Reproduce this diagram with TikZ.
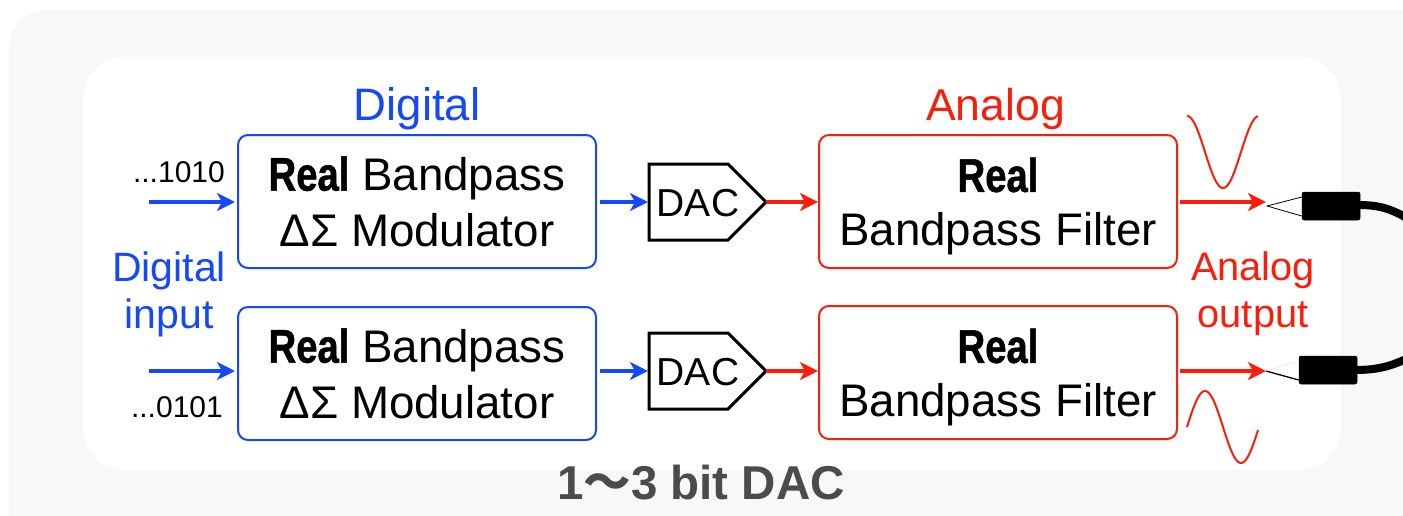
\documentclass[tikz,border=0pt]{standalone}
\usepackage{fontspec}
\setmainfont{Liberation Sans}
\newfontfamily\cjkf{Noto Sans CJK JP}[Scale=1]
\usetikzlibrary{arrows.meta}
\definecolor{dblue}{RGB}{20,72,250}
\definecolor{dred}{RGB}{250,30,10}
\definecolor{panel}{RGB}{248,248,248}
\definecolor{capgray}{RGB}{75,75,75}
\newcommand{\realword}{\scalebox{0.85}[1.05]{\fontsize{45}{45}\selectfont\bfseries\addfontfeatures{FakeBold=1.2}Real}}
\tikzset{
  blockbase/.style={rounded corners=10pt,line width=2pt,minimum width=358pt,minimum height=133pt,align=center,inner sep=0pt},
  modbox/.style={blockbase,draw=dblue,font=\fontsize{45.7}{55.5}\selectfont},
  filtbox/.style={blockbase,draw=dred},
  filttext/.style={inner sep=0pt,align=center,font=\fontsize{45.7}{54}\selectfont},
  sig/.style={line width=3.2pt,-{Stealth[length=18pt,width=18pt,inset=5pt]}},
  bluesig/.style={sig,draw=dblue},
  redsig/.style={sig,draw=dred},
  wave/.style={draw=dred,line width=2pt},
  plug/.style={fill=black,draw=black,rounded corners=2pt,line width=.5pt},
  lbl/.style={inner sep=0pt,align=center},
  cable/.style={draw=black,line width=8pt},
  dacbox/.style={draw=black,line width=3pt,line join=miter,fill=white}
}
\begin{document}
\begin{tikzpicture}[x=1pt,y=-1pt]
\useasboundingbox (0,0) rectangle (1403,515);
\begin{scope}
\clip (0,0) rectangle (1403,515);
\fill[white] (0,0) rectangle (1403,515);
\fill[panel,rounded corners=38pt] (9,10) rectangle (1460,560);
\fill[white,rounded corners=42pt] (83,57) rectangle (1341,470);

% blocks
\node[modbox] (m1) at (417,201.5) {\realword{} Bandpass\\ΔΣ Modulator};
\node[modbox] (m2) at (417,373.5) {\realword{} Bandpass\\ΔΣ Modulator};
\node[filtbox] (f1) at (998,201.5) {};
\node[filtbox] (f2) at (998,372.5) {};
\node[filttext,yshift=-5pt] (ft1) at (f1) {\realword\\Bandpass Filter};
\node[filttext,yshift=-5pt] (ft2) at (f2) {\realword\\Bandpass Filter};

% DACs
\draw[dacbox] (649,164) coordinate (d1a) -- (728,164) -- (766,202) coordinate (d1tip) -- (728,240) -- (649,240) -- cycle;
\draw[dacbox] (649,333) coordinate (d2a) -- (728,333) -- (766,371) coordinate (d2tip) -- (728,409) -- (649,409) -- cycle;
\node[lbl,font=\fontsize{39}{39}\selectfont] (dt1) at (698,203) {DAC};
\node[lbl,font=\fontsize{39}{39}\selectfont] (dt2) at (698,372) {DAC};
\coordinate (d1in) at (648,202);
\coordinate (d2in) at (648,371);

% headings
\node[lbl,text=dblue,font=\fontsize{45.5}{45.5}\selectfont] (h1) at (417,109) {Digital};
\node[lbl,text=dred,font=\fontsize{44.6}{44.6}\selectfont] (h2) at (995.5,109) {Analog};
\node[lbl,text=dblue,font=\fontsize{41}{47}\selectfont] (h3) at (169,294) {Digital\\input};
\node[lbl,text=dred,font=\fontsize{39.8}{47}\selectfont] (h4) at (1253,294) {Analog\\output};
\node[lbl,font=\fontsize{30}{30}\selectfont,anchor=east] (b1) at (225,172) {...1010};
\node[lbl,font=\fontsize{30}{30}\selectfont,anchor=east] (b2) at (223,407) {...0101};
\node[lbl,text=capgray,font=\fontsize{47.5}{47.5}\selectfont\bfseries] (c1) at (701,483) {1{\cjkf 〜}3 bit DAC};

% signals
\coordinate (i1) at (149,202);
\coordinate (i2) at (149,371);
\coordinate (o1) at (1266,202);
\coordinate (o2) at (1266,371);
\draw[bluesig,shorten >=2pt] (i1) -- (m1.west |- i1);
\draw[bluesig,shorten >=2pt] (i2) -- (m2.west |- i2);
\draw[bluesig,shorten <=3pt] (m1.east |- d1in) -- (d1in);
\draw[bluesig,shorten <=3pt] (m2.east |- d2in) -- (d2in);
\draw[redsig] (d1tip) -- (f1.west |- d1tip);
\draw[redsig] (d2tip) -- (f2.west |- d2tip);
\draw[redsig,shorten <=2pt] (f1.east |- o1) -- (o1);
\draw[redsig,shorten <=2pt] (f2.east |- o2) -- (o2);

% waves
\draw[wave,domain=1187:1258,samples=60,variable=\t] plot (\t,{152-36*cos(5*(\t-1187))});
\draw[wave,domain=1187:1258,samples=60,variable=\t] plot (\t,{427-36*sin(5*(\t-1187))});

% plugs
\draw[cable] (1358,205) .. controls (1380,205) and (1392,209) .. (1410,220);
\draw[cable] (1355,370) .. controls (1378,370) and (1392,366) .. (1410,357);
\node[plug,minimum width=58pt,minimum height=28pt,inner sep=0pt] (p1) at (1331,206) {};
\node[plug,minimum width=58pt,minimum height=28pt,inner sep=0pt] (p2) at (1328,370) {};
\coordinate (t1) at (1267,206);
\coordinate (t2) at (1266,371);
\draw[black,line width=.8pt] (p1.west |- 0,197) -- (t1) -- (p1.west |- 0,216);
\draw[black,line width=1.3pt] (t2) -- (p2.west |- 0,380);
\draw[black!12,line width=.4pt] (t2) -- (p2.west |- 0,361);
\end{scope}
\end{tikzpicture}
\end{document}
